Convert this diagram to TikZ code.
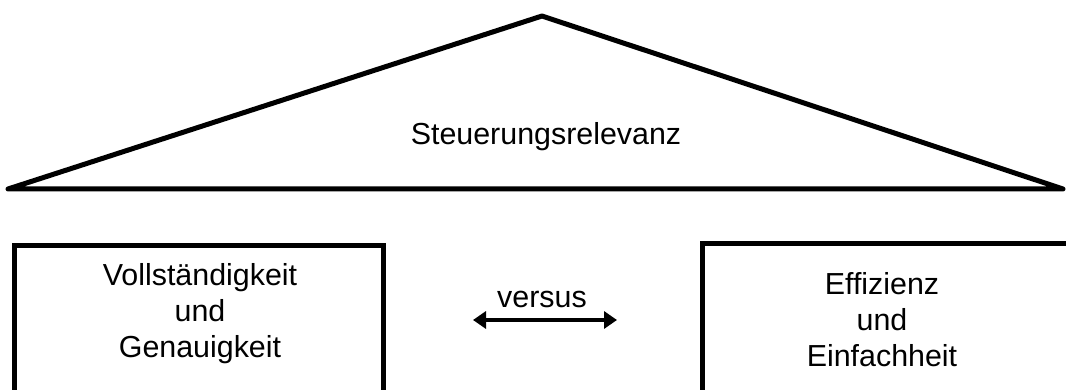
\documentclass[tikz,border=0pt]{standalone}
\usepackage{fontspec}
\setmainfont{Liberation Sans}
\usetikzlibrary{arrows.meta}

\begin{document}
\begin{tikzpicture}[x=0.5pt,y=-0.5pt,line width=2.5pt,
    label/.style={font=\fontsize{15.2pt}{18pt}\selectfont,align=center,inner sep=0pt},
    vshead/.tip={Triangle[length=6.5pt,width=8.5pt]}]

      \useasboundingbox (0,0) rectangle (1066,390);

      \draw[line join=round] (8,189) -- (542,16) -- (1063,189) -- cycle;

      \draw (14,420) -- (14,245) -- (383,245) -- (383,420);
      \draw (702,420) -- (702,243) -- (1080,243);

      \begin{scope}[every node/.style={label}]
        \node[anchor=base] (roof)  at (546,145) {Steuerungsrelevanz};
        \node (left)  at (200,314) {Vollständigkeit\\und\\Genauigkeit};
        \node (right) at (882,320) {Effizienz\\und\\Einfachheit};
        \node[anchor=base] (vs) at (542,307) {versus};
      \end{scope}

      \coordinate (vsl) at (473,320);
      \coordinate (vsr) at (617,320);
      \draw[line width=2.3pt,vshead-vshead] (vsl) -- (vsr);

    \end{tikzpicture}
\end{document}
